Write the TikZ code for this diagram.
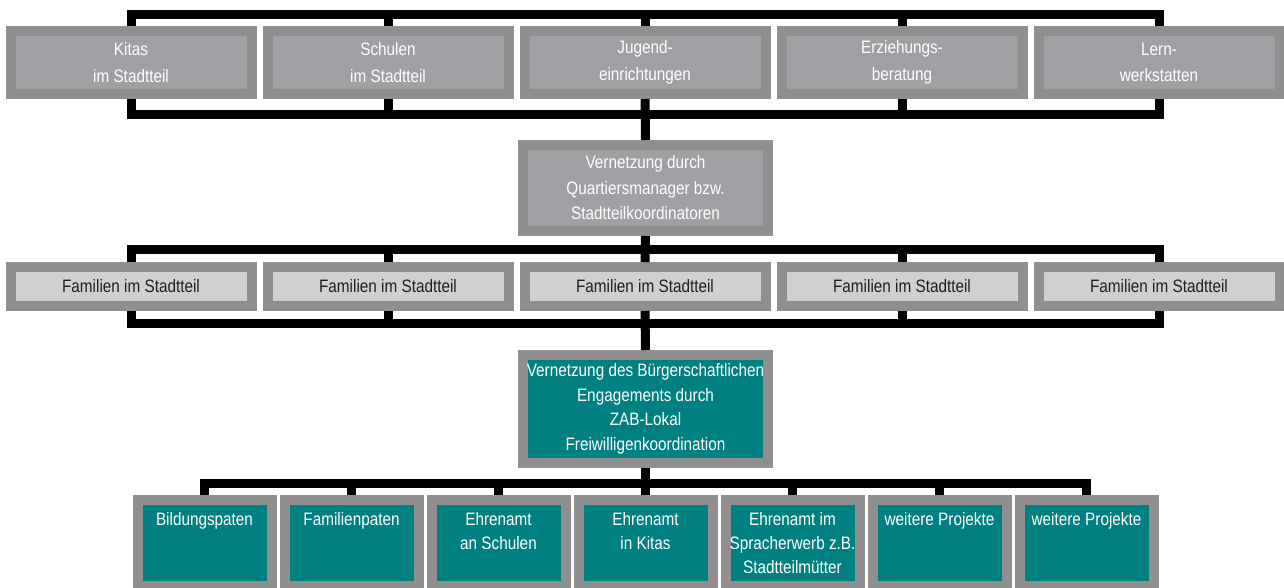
\documentclass[tikz,border=0pt]{standalone}
\usepackage{fontspec}
\setmainfont[FakeStretch=0.85]{Liberation Sans}
\usetikzlibrary{positioning}
\definecolor{rim}{HTML}{8F8F8F}
\definecolor{greybox}{HTML}{A0A0A4}
\definecolor{lightbox}{HTML}{D0D0D0}
\definecolor{tealbox}{HTML}{008080}
\tikzset{
  box/.style={draw=rim, line width=10pt, inner sep=0pt, align=center,
    font=\fontsize{18}{25.5}\selectfont},
  topbox/.style={box, fill=greybox, text=white, minimum width=241pt, minimum height=63pt,
    font=\fontsize{18}{26.5}\selectfont},
  familybox/.style={box, fill=lightbox, text=black!88, minimum width=241pt, minimum height=39pt},
  hubbox/.style={box, minimum width=245pt},
  projectbox/.style={box, fill=tealbox, minimum width=134pt, minimum height=86pt},
  projecttext/.style={inner sep=0pt, align=center, text=white,
    font=\fontsize{18}{24}\selectfont},
  conn/.style={line width=9pt, black},
}
\begin{document}
\begin{tikzpicture}[x=1pt, y=-1pt]
\useasboundingbox (0,0) rectangle (1284,587);
\clip (0,0) rectangle (1284,587);
% Nodes
\foreach \i/\x/\t in {1/131/{Kitas\\im Stadtteil}, 2/388/{Schulen\\im Stadtteil},
    3/645/{Jugend-\\einrichtungen}, 4/902/{Erziehungs-\\beratung}, 5/1159/{Lern-\\werkstatten}} {
  \node[topbox] (k\i) at (\x,62.5) {\t};
}
\node[hubbox, fill=greybox, text=white, minimum height=86pt] (m) at (645.5,188)
  {Vernetzung durch\\Quartiersmanager bzw.\\Stadtteilkoordinatoren};
\foreach \i/\x in {1/131, 2/388, 3/645, 4/902, 5/1159} {
  \node[familybox] (f\i) at (\x,286.5) {Familien im Stadtteil};
}
\node[hubbox, fill=tealbox, text=white, minimum height=108pt,
  font=\fontsize{18}{24.5}\selectfont] (t) at (645.5,409)
  {Vernetzung des Bürgerschaftlichen\\Engagements durch\\ZAB-Lokal\\Freiwilligenkoordination};
\foreach \i/\x/\t in {1/204.5/{Bildungspaten}, 2/351.5/{Familienpaten}, 3/498.5/{Ehrenamt\\an Schulen},
    4/645.5/{Ehrenamt\\in Kitas}, 5/792.5/{Ehrenamt im\\Spracherwerb z.B.\\Stadtteilmütter},
    6/939.5/{weitere Projekte}, 7/1086.5/{weitere Projekte}} {
  \node[projectbox] (b\i) at (\x,543) {};
  \node[projecttext, below=17.5pt of b\i.north] (bt\i) {\t};
}
% Edges
\coordinate (topbar) at (0,14);
\coordinate (kbar) at (0,114);
\coordinate (fbar) at (0,249);
\coordinate (fbar2) at (0,323);
\coordinate (bbar) at (0,483);
\draw[conn] (k1.north) -- (k1.north |- topbar) -- (k5.north |- topbar) -- (k5.north);
\draw[conn] (k1.south) -- (k1.south |- kbar) -- (k5.south |- kbar) -- (k5.south);
\draw[conn] (f1.north) -- (f1.north |- fbar) -- (f5.north |- fbar) -- (f5.north);
\draw[conn] (f1.south) -- (f1.south |- fbar2) -- (f5.south |- fbar2) -- (f5.south);
\foreach \i in {2,4} {
  \draw[conn] (k\i.north) -- (k\i.north |- topbar);
  \draw[conn] (k\i.south) -- (k\i.south |- kbar);
  \draw[conn] (f\i.north) -- (f\i.north |- fbar);
  \draw[conn] (f\i.south) -- (f\i.south |- fbar2);
}
\draw[conn] (k3.north) -- (k3.north |- topbar);
\draw[conn] (k3.south) -- (m.north);
\draw[conn] (m.south) -- (f3.north);
\draw[conn] (f3.south) -- (t.north);
\draw[conn] (b1.north) -- (b1.north |- bbar) -- (b7.north |- bbar) -- (b7.north);
\foreach \i in {2,...,6} {
  \draw[conn] (b\i.north) -- (b\i.north |- bbar);
}
\draw[conn] (t.south) -- (b4.north);
\end{tikzpicture}
\end{document}
